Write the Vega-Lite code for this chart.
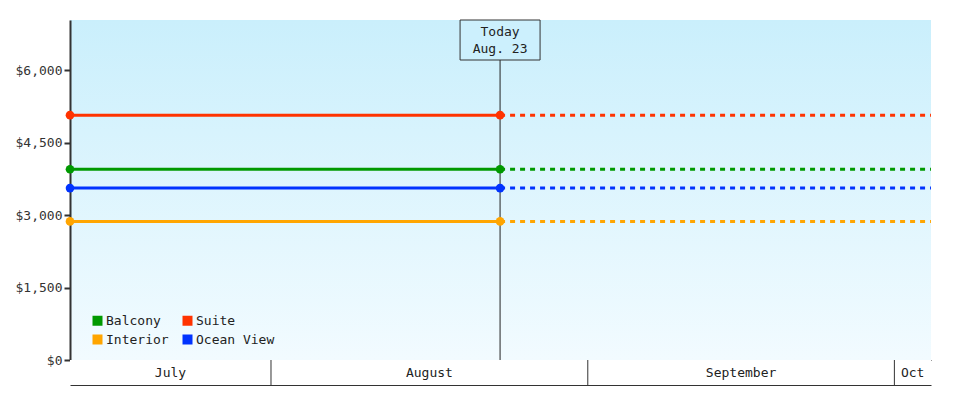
{
  "$schema": "https://vega.github.io/schema/vega-lite/v6.json",
  "padding": {"left": 15, "top": 18, "right": 49, "bottom": 15},
  "background": "white",
  "config": {
    "font": "DejaVu Sans Mono",
    "view": {"stroke": null},
    "axisX": {"labels": false, "ticks": false, "grid": false, "domainColor": "#333333", "domainWidth": 1},
    "axisY": {"grid": false, "domainColor": "#333333", "domainWidth": 2, "tickColor": "#333333", "tickWidth": 2, "tickSize": 6, "labelFont": "DejaVu Sans Mono", "labelFontSize": 13, "labelColor": "#333333", "labelPadding": 2},
    "legend": {"orient": "none", "direction": "horizontal", "legendX": 21, "legendY": 294, "columns": 2, "symbolType": "square", "symbolSize": 100, "symbolStrokeWidth": 0, "labelFont": "DejaVu Sans Mono", "labelFontSize": 13, "labelColor": "#222222", "columnPadding": 12, "rowPadding": 5, "labelOffset": 2}
  },
  "datasets": {
    "prices": [
      {"cabin": "Balcony", "seg": "actual", "date": "2025-07-12T08:00:00", "price": 3950},
      {"cabin": "Balcony", "seg": "actual", "date": "2025-08-23T10:00:00", "price": 3950},
      {"cabin": "Balcony", "seg": "forecast", "date": "2025-08-23T10:00:00", "price": 3950},
      {"cabin": "Balcony", "seg": "forecast", "date": "2025-10-04T14:00:00", "price": 3950},
      {"cabin": "Suite", "seg": "actual", "date": "2025-07-12T08:00:00", "price": 5070},
      {"cabin": "Suite", "seg": "actual", "date": "2025-08-23T10:00:00", "price": 5070},
      {"cabin": "Suite", "seg": "forecast", "date": "2025-08-23T10:00:00", "price": 5070},
      {"cabin": "Suite", "seg": "forecast", "date": "2025-10-04T14:00:00", "price": 5070},
      {"cabin": "Interior", "seg": "actual", "date": "2025-07-12T08:00:00", "price": 2870},
      {"cabin": "Interior", "seg": "actual", "date": "2025-08-23T10:00:00", "price": 2870},
      {"cabin": "Interior", "seg": "forecast", "date": "2025-08-23T10:00:00", "price": 2870},
      {"cabin": "Interior", "seg": "forecast", "date": "2025-10-04T14:00:00", "price": 2870},
      {"cabin": "Ocean View", "seg": "actual", "date": "2025-07-12T08:00:00", "price": 3560},
      {"cabin": "Ocean View", "seg": "actual", "date": "2025-08-23T10:00:00", "price": 3560},
      {"cabin": "Ocean View", "seg": "forecast", "date": "2025-08-23T10:00:00", "price": 3560},
      {"cabin": "Ocean View", "seg": "forecast", "date": "2025-10-04T14:00:00", "price": 3560}
    ],
    "today": [{"date": "2025-08-23T10:00:00", "label": "Today\nAug. 23"}],
    "months": [
      {"month": "July", "mid": "2025-07-22T04:00:00"},
      {"month": "August", "mid": "2025-08-16T12:00:00"},
      {"month": "September", "mid": "2025-09-16T00:00:00"},
      {"month": "Oct", "mid": "2025-10-02T19:00:00"}
    ],
    "bounds": [
      {"date": "2025-08-01T00:00:00"},
      {"date": "2025-09-01T00:00:00"},
      {"date": "2025-10-01T00:00:00"}
    ]
  },
  "spacing": 0,
  "bounds": "flush",
  "resolve": {"scale": {"x": "shared"}},
  "vconcat": [
    {
      "width": 861,
      "height": 340,
      "view": {
        "stroke": null,
        "fill": {"gradient": "linear", "x1": 0, "y1": 0, "x2": 0, "y2": 1, "stops": [{"offset": 0, "color": "#caeffc"}, {"offset": 1, "color": "#f2fbff"}]}
      },
      "layer": [
        {
          "data": {"name": "today"},
          "mark": {"type": "rule", "color": "#222222", "strokeWidth": 1},
          "encoding": {"x": {"field": "date", "type": "temporal", "title": null, "scale": {"nice": false, "padding": 0}}}
        },
        {
          "data": {"name": "prices"},
          "mark": {"type": "line", "strokeWidth": 3},
          "encoding": {
            "x": {"field": "date", "type": "temporal", "title": null, "scale": {"nice": false, "padding": 0}},
            "y": {"field": "price", "type": "quantitative", "title": null, "scale": {"domain": [0, 7040], "nice": false}, "axis": {"values": [0, 1500, 3000, 4500, 6000], "format": "$,d"}},
            "color": {"field": "cabin", "type": "nominal", "title": null, "scale": {"domain": ["Balcony", "Suite", "Interior", "Ocean View"], "range": ["#009900", "#ff3300", "#ffa500", "#0033ff"]}},
            "strokeDash": {"field": "seg", "type": "nominal", "scale": {"domain": ["actual", "forecast"], "range": [[1, 0], [5, 5]]}, "legend": null}
          }
        },
        {
          "data": {"name": "prices"},
          "transform": [{"filter": "datum.seg == 'actual'"}],
          "mark": {"type": "point", "shape": "circle", "filled": true, "size": 75, "opacity": 1},
          "encoding": {
            "x": {"field": "date", "type": "temporal", "title": null},
            "y": {"field": "price", "type": "quantitative", "title": null},
            "color": {"field": "cabin", "type": "nominal", "title": null}
          }
        },
        {
          "data": {"name": "today"},
          "mark": {"type": "point", "shape": "M-1,-0.5H1V0.5H-1Z", "size": 6400, "filled": true, "fill": "#ccf0fd", "stroke": "#333333", "strokeWidth": 1, "opacity": 1, "strokeOpacity": 1, "yOffset": 20},
          "encoding": {
            "x": {"field": "date", "type": "temporal", "title": null},
            "y": {"datum": 7040}
          }
        },
        {
          "data": {"name": "today"},
          "mark": {"type": "text", "lineBreak": "\n", "lineHeight": 17, "yOffset": 12, "font": "DejaVu Sans Mono", "fontSize": 13, "color": "#222222", "baseline": "middle", "align": "center"},
          "encoding": {
            "x": {"field": "date", "type": "temporal", "title": null},
            "y": {"datum": 7040},
            "text": {"field": "label"}
          }
        }
      ]
    },
    {
      "width": 861,
      "height": 25,
      "view": {"stroke": null, "fill": "white"},
      "layer": [
        {
          "data": {"name": "bounds"},
          "mark": {"type": "rule", "color": "#333333", "strokeWidth": 1},
          "encoding": {"x": {"field": "date", "type": "temporal", "title": null}}
        },
        {
          "data": {"name": "months"},
          "mark": {"type": "text", "font": "DejaVu Sans Mono", "fontSize": 13, "color": "#222222", "baseline": "middle", "align": "center"},
          "encoding": {
            "x": {"field": "mid", "type": "temporal", "title": null},
            "text": {"field": "month"}
          }
        }
      ]
    }
  ]
}
